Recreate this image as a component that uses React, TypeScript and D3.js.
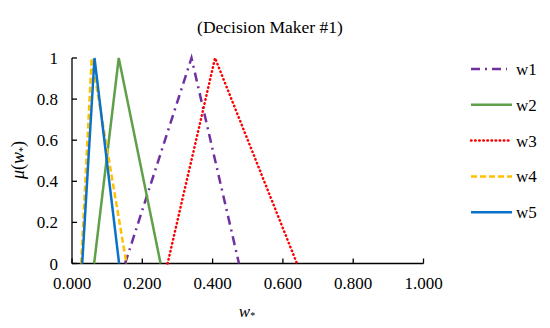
import React, { useRef, useEffect } from "react";
import * as d3 from "d3";

// triangular fuzzy numbers [left, peak, right]
const seriesNames = ["w1", "w2", "w3", "w4", "w5"];
const lowValues = [0.151, 0.063, 0.272, 0.026, 0.029];
const peakValues = [0.34, 0.133, 0.407, 0.056, 0.064];
const highValues = [0.475, 0.252, 0.64, 0.155, 0.134];
const xTicks = [0, 0.2, 0.4, 0.6, 0.8, 1.0];
const yTicks = [0, 0.2, 0.4, 0.6, 0.8, 1];

const colors = ["#7030A0", "#5FA048", "#FF0000", "#FFC000", "#0A72C8"];
const dashes = ["9,5,2,5", null, "0.5,3.6", "6,3", null];
const caps = ["butt", "butt", "round", "butt", "butt"];

const App = () => {
  const svgRef = useRef(null);

  useEffect(() => {
    const width = 550;
    const height = 328;
    const svg = d3.select(svgRef.current).attr("width", width).attr("height", height);
    svg.selectAll("*").remove();

    const font = "'Liberation Serif', 'Times New Roman', serif";
    const x = d3.scaleLinear().domain([0, 1]).range([72, 423.5]);
    const y = d3.scaleLinear().domain([0, 1]).range([263.5, 58]);

    // title
    svg.append("text")
      .attr("x", 270).attr("y", 33)
      .attr("text-anchor", "middle")
      .attr("font-family", font).attr("font-size", 17.5)
      .text("(Decision Maker #1)");

    // axes
    const ax = svg.append("g").attr("stroke", "#000").attr("stroke-width", 1.3).attr("fill", "none");
    ax.append("line").attr("x1", x(0)).attr("x2", x(1)).attr("y1", y(0)).attr("y2", y(0));
    ax.append("line").attr("x1", x(0)).attr("x2", x(0)).attr("y1", y(0)).attr("y2", y(1));
    xTicks.forEach(t => {
      ax.append("line").attr("x1", x(t)).attr("x2", x(t)).attr("y1", y(0)).attr("y2", y(0) - 5);
    });
    yTicks.forEach(t => {
      ax.append("line").attr("x1", x(0)).attr("x2", x(0) + 5).attr("y1", y(t)).attr("y2", y(t));
    });

    svg.append("g").selectAll("text")
      .data(xTicks).enter().append("text")
      .attr("x", d => x(d)).attr("y", y(0) + 25)
      .attr("text-anchor", "middle")
      .attr("font-family", font).attr("font-size", 17)
      .text(d => d3.format(".3f")(d));

    svg.append("g").selectAll("text")
      .data(yTicks).enter().append("text")
      .attr("x", x(0) - 14).attr("y", d => y(d) + 6)
      .attr("text-anchor", "end")
      .attr("font-family", font).attr("font-size", 17)
      .text(d => d3.format("~g")(d));

    // axis titles
    const xl = svg.append("text")
      .attr("x", 247).attr("y", 317)
      .attr("text-anchor", "middle")
      .attr("font-family", font).attr("font-size", 17);
    xl.append("tspan").attr("font-style", "italic").text("w");
    xl.append("tspan").attr("font-size", 10).attr("dy", 2).text("*");

    const yl = svg.append("text")
      .attr("transform", "translate(24,160) rotate(-90)")
      .attr("text-anchor", "middle")
      .attr("font-family", font).attr("font-size", 18);
    yl.append("tspan").attr("font-style", "italic").text("μ");
    yl.append("tspan").text("(");
    yl.append("tspan").attr("font-style", "italic").text("w");
    yl.append("tspan").attr("font-size", 10).attr("dy", 2).text("*");
    yl.append("tspan").attr("dy", -2).text(")");

    // series
    const line = d3.line().x(d => x(d[0])).y(d => y(d[1]));
    seriesNames.forEach((name, i) => {
      const pts = [[lowValues[i], 0], [peakValues[i], 1], [highValues[i], 0]];
      svg.append("path")
        .attr("d", line(pts))
        .attr("fill", "none")
        .attr("stroke", colors[i])
        .attr("stroke-width", 2.5)
        .attr("stroke-linecap", caps[i])
        .attr("stroke-dasharray", dashes[i]);
    });

    // legend
    const lg = svg.append("g");
    seriesNames.forEach((name, i) => {
      const ly = 69 + i * 35.8;
      lg.append("line")
        .attr("x1", 471).attr("x2", i === 0 ? 507 : 512)
        .attr("y1", ly).attr("y2", ly)
        .attr("stroke", colors[i])
        .attr("stroke-width", 2.5)
        .attr("stroke-linecap", caps[i])
        .attr("stroke-dasharray", dashes[i]);
      lg.append("text")
        .attr("x", 516).attr("y", ly + 6)
        .attr("font-family", font).attr("font-size", 17)
        .text(name);
    });
  }, []);

  return <svg ref={svgRef} style={{ position: "absolute", left: 0, top: 0 }} />;
};

export default App;
